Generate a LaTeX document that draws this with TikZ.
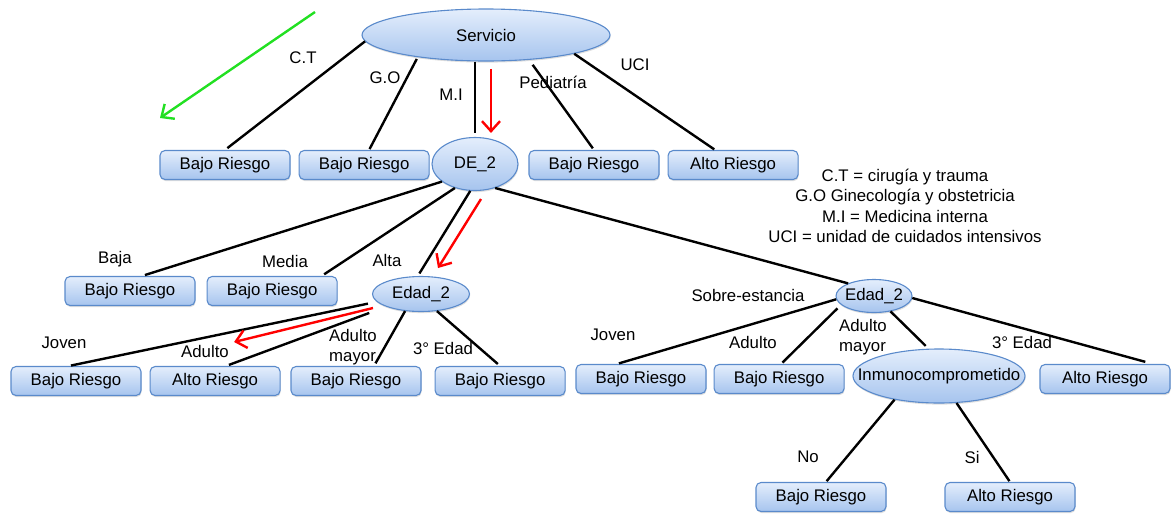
\documentclass[tikz,border=0pt]{standalone}
\usepackage{fontspec}
\setmainfont{Liberation Sans}
\usetikzlibrary{arrows.meta,shapes.geometric,shadows,calc,positioning}
\definecolor{cajaarriba}{HTML}{E4EEFC}
\definecolor{cajaabajo}{HTML}{A6C4EE}
\definecolor{cajaborde}{HTML}{5A8ACB}
\definecolor{verde}{HTML}{22E022}
\newcommand{\ovalo}[1]{\makebox[0pt]{#1}}

\begin{document}
\begin{tikzpicture}[x=1pt,y=-1pt,font=\fontsize{16.8}{20.5}\selectfont,
                    >={Straight Barb[length=10pt,width=18pt]}]
  \tikzstyle{riesgo}=[rectangle, rounded corners=5pt, draw=cajaborde,
    line width=1.1pt, top color=cajaarriba, bottom color=cajaabajo,
    minimum width=130pt, minimum height=29pt, inner sep=0pt,
    drop shadow={shadow xshift=0.6pt, shadow yshift=-1.6pt, opacity=0.25}]
  \tikzstyle{nudo}=[ellipse, draw=cajaborde, line width=1.1pt,
    top color=cajaarriba, bottom color=cajaabajo, inner sep=0pt,
    drop shadow={shadow xshift=0.6pt, shadow yshift=-1.6pt, opacity=0.25}]
  \tikzstyle{rama}=[line width=2.4pt, black]
  \tikzstyle{camino}=[->, red, line width=2.4pt]
  \tikzstyle{guia}=[->, verde, line width=2.4pt]
  \tikzstyle{rotulo}=[inner sep=0pt]

  \useasboundingbox (0,0) rectangle (1172,515);

  % nivel 0 y 1
  \node[nudo, minimum width=248pt, minimum height=52pt] (serv) at (486,35) {Servicio};
  \node[riesgo] (b1) at (225,165) {Bajo Riesgo};
  \node[riesgo, right=8pt of b1] (b2) {Bajo Riesgo};
  \node[nudo, minimum width=86pt, minimum height=53pt] (de2) at (475,164) {DE\_2};
  \node[riesgo] (b3) at (594,165) {Bajo Riesgo};
  \node[riesgo, right=8pt of b3] (b4) {Alto Riesgo};

  % nivel 2
  \node[riesgo] (bBaja) at (130,291) {Bajo Riesgo};
  \node[riesgo, right=11pt of bBaja] (bMedia) {Bajo Riesgo};
  \node[nudo, minimum width=97pt, minimum height=35pt] (edadA) at (421,294) {\ovalo{Edad\_2}};
  \node[nudo, minimum width=76pt, minimum height=33pt] (edadB) at (874,296) {\ovalo{Edad\_2}};

  % nivel 3
  \node[riesgo] (j1) at (76,381) {Bajo Riesgo};
  \node[riesgo, right=8pt of j1] (a1) {Alto Riesgo};
  \node[riesgo] (m1) at (356,381) {Bajo Riesgo};
  \node[riesgo, right=13pt of m1] (t1) {Bajo Riesgo};
  \node[riesgo] (j2) at (641,379) {Bajo Riesgo};
  \node[riesgo, right=7pt of j2] (a2) {Bajo Riesgo};
  \node[nudo, minimum width=172pt, minimum height=54pt] (inmu) at (939,376) {\ovalo{Inmunocomprometido}};
  \node[riesgo] (t2) at (1105,379) {Alto Riesgo};

  % nivel 4
  \node[riesgo] (nb) at (821,497) {Bajo Riesgo};
  \node[riesgo] (sb) at (1010,497) {Alto Riesgo};

  \draw[rama]
        (serv.183) edge[shorten >=3pt] (b1.north)
        (serv.198) edge[shorten <=2pt, shorten >=1pt] ([xshift=5pt]b2.north)
        (serv.south -| de2.north) edge[shorten >=4pt] (de2.north)
        (serv.330) edge[shorten <=6pt, shorten >=2pt] (b3.north)
        (serv.348) edge[shorten >=1pt] ([xshift=-18pt]b4.north)
        (de2.208) edge[shorten >=3pt] ([xshift=12pt]bBaja.north)
        (de2.230) edge[shorten >=3pt] ([xshift=-16pt]bMedia.north east)
        (de2.260) edge[shorten >=3pt] (edadA.100)
        (de2.310) edge (edadB.154)
        (edadA.190) edge[shorten <=9pt, shorten >=2pt] ([xshift=-7pt]j1.north)
        (edadA.200) edge[shorten <=18pt, shorten >=3pt] ([xshift=11pt]a1.north)
        (edadA.227) edge[shorten >=3pt] ([xshift=18pt]m1.north)
        (edadA.313) edge[shorten >=3pt] (t1.north)
        (edadB.185) edge[shorten >=2pt] ([xshift=-24pt]j2.north)
        (edadB.195) edge[shorten <=5pt, shorten >=2pt] ([xshift=2pt]a2.north)
        (edadB.317) edge[shorten >=4pt] (inmu.111)
        (edadB.357) edge[shorten >=8pt] ([xshift=48pt]t2.north)
        (inmu.208) edge[shorten >=1pt] ([xshift=5pt]nb.north)
        (inmu.303) edge[shorten >=1pt] (sb.north);

  % rutas marcadas
  \draw[camino] ($(de2.north)+(16,-68)$) -- ($(de2.north)+(16,-4)$);
  \draw[camino] ($(de2)+(6,35)$) -- ($(edadA)+(17,-26)$);
  \draw[camino] ($(edadA)+(-48,14)$) -- ($(a1)+(19,-39)$);
  \coordinate (gIni) at (315,12);
  \coordinate (gFin) at (160,118);
  \draw[guia] (gIni) -- (gFin);

  % etiquetas de las ramas
  \node[rotulo] (lCT) at (303,58) {C.T};
  \node[rotulo] (lGO) at (385,78) {G.O};
  \node[rotulo] (lMI) at (451,95) {M.I};
  \node[rotulo] (lPed) at (553,82) {Pediatría};
  \node[rotulo] (lUCI) at (635,65) {UCI};
  \node[rotulo] (lBaja) at (115,259) {Baja};
  \node[rotulo] (lMedia) at (285,261) {Media};
  \node[rotulo] (lAlta) at (387,260) {Alta};
  \node[rotulo] (lSobre) at (748,295) {Sobre-estancia};
  \node[rotulo] (lJovenA) at (64,343) {Joven};
  \node[rotulo] (lAdultoA) at (205,351) {Adulto};
  \node[rotulo, align=left] (lMayorA) at (353,347) {Adulto\\mayor};
  \node[rotulo] (lTerceraA) at (443,348) {3° Edad};
  \node[rotulo] (lJovenB) at (613,335) {Joven};
  \node[rotulo] (lAdultoB) at (753,342) {Adulto};
  \node[rotulo, align=left] (lMayorB) at (863,337) {Adulto\\mayor};
  \node[rotulo] (lTerceraB) at (1022,342) {3° Edad};
  \node[rotulo] (lNo) at (808,457) {No};
  \node[rotulo] (lSi) at (972,457) {Si};

  \node[rotulo, align=center] (leyenda) at (905,206) {C.T = cirugía y trauma\\
    G.O Ginecología y obstetricia\\ M.I = Medicina interna\\
    UCI = unidad de cuidados intensivos};
\end{tikzpicture}
\end{document}
